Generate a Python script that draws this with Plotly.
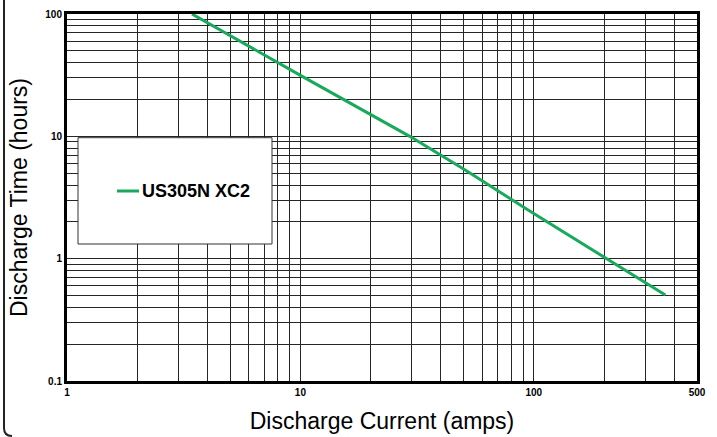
import plotly.graph_objects as go

# Data
current_amps = [3.43, 10, 29.4, 50, 96, 199, 366]
time_hours = [100, 31.5, 10, 5.4, 2.45, 1.04, 0.504]
series_name = "US305N XC2"

x_tick_vals = [1, 2, 3, 4, 5, 6, 7, 8, 9, 10, 20, 30, 40, 50, 60, 70, 80, 90, 100, 200, 300, 400, 500]
x_tick_text = ["1", "", "", "", "", "", "", "", "", "10", "", "", "", "", "", "", "", "", "100", "", "", "", "500"]
y_tick_vals = [0.1, 0.2, 0.3, 0.4, 0.5, 0.6, 0.7, 0.8, 0.9, 1, 2, 3, 4, 5, 6, 7, 8, 9, 10,
               20, 30, 40, 50, 60, 70, 80, 90, 100]
y_tick_text = ["0.1"] + [""] * 8 + ["1"] + [""] * 8 + ["10"] + [""] * 8 + ["100"]

W, H = 717, 437
L, R, T, B = 67, 20, 14, 56
pw, ph = W - L - R, H - T - B

def px(xp):
    return (xp - L) / pw

def py(yp):
    return (H - B - yp) / ph

fig = go.Figure()
fig.add_trace(go.Scatter(
    x=current_amps, y=time_hours, mode="lines", name=series_name,
    line=dict(color="#18a95a", width=3), showlegend=False, hoverinfo="skip",
))

axis_common = dict(
    type="log", showgrid=True, gridcolor="#262626", gridwidth=1,
    showline=True, linecolor="black", linewidth=3, mirror=True,
    ticks="", zeroline=False, automargin=False,
    tickfont=dict(family="Liberation Sans, Arial", size=10, color="black", weight="bold"),
)

fig.update_xaxes(
    **axis_common, range=[0, 2.69897], tickvals=x_tick_vals, ticktext=x_tick_text,
    title=dict(text="Discharge Current (amps)", standoff=16,
               font=dict(family="Liberation Sans, Arial", size=23, color="black")),
)
fig.update_yaxes(
    **axis_common, range=[-1, 2], tickvals=y_tick_vals, ticktext=y_tick_text,
    title=dict(text="Discharge Time (hours)", standoff=12,
               font=dict(family="Liberation Sans, Arial", size=23, color="black")),
)

shapes = [
    # legend box
    dict(type="rect", xref="paper", yref="paper", layer="above",
         x0=px(78), x1=px(272), y0=py(244), y1=py(137.7),
         fillcolor="white", line=dict(color="#333", width=1)),
    # legend line sample
    dict(type="line", xref="paper", yref="paper", layer="above",
         x0=px(117), x1=px(139), y0=py(191), y1=py(191),
         line=dict(color="#18a95a", width=3)),
    # outer frame (left edge, rounded bottom corner)
    dict(type="path", xref="paper", yref="paper", layer="above",
         path=f"M {px(4)},{py(-10)} L {px(4)},{py(428)} Q {px(4)},{py(436)} {px(12)},{py(436)}",
         line=dict(color="#222", width=2)),
]

annotations = [
    dict(xref="paper", yref="paper", x=px(140), y=py(191), xanchor="left", yanchor="middle",
         text="<b>" + series_name + "</b>", showarrow=False,
         font=dict(family="Liberation Sans, Arial", size=18, color="black")),
]

fig.update_layout(
    width=W, height=H, margin=dict(l=L, r=R, t=T, b=B),
    paper_bgcolor="white", plot_bgcolor="white",
    shapes=shapes, annotations=annotations,
)

fig.write_html(
    "out.html",
    config={"displayModeBar": False},
    post_script="document.body.style.margin='0';document.body.style.overflow='hidden';",
)
